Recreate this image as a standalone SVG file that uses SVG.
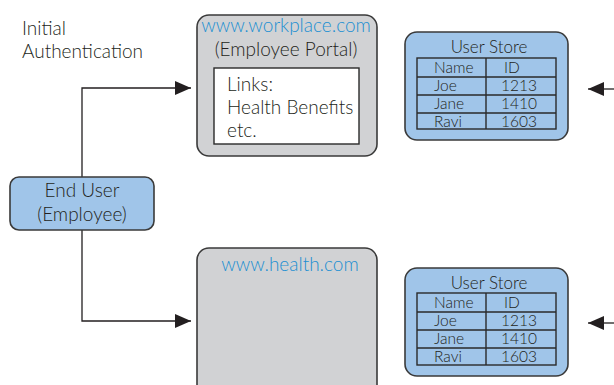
<svg xmlns="http://www.w3.org/2000/svg" width="614" height="385" viewBox="0 0 614 385">
<style>
text{font-family:Lato,"Noto Sans","DejaVu Sans",sans-serif;fill:#231f20;font-weight:300}
.t{font-size:19px}
.s{font-size:15.5px}
.h{font-size:17px}
.c{text-anchor:middle}
.url{fill:#1b8fd2}
.portal{fill:#d1d2d4;stroke:#3a3a3a;stroke-width:1.6}
.store{fill:#a0c5e9;stroke:#3a3a3a;stroke-width:1.6}
.tbl{fill:none;stroke:#2a2a2a;stroke-width:1.4}
.ln{fill:none;stroke:#231f20;stroke-width:1.3}
</style>
<defs>
<marker id="ah" viewBox="0 0 16 14" refX="16" refY="7" markerWidth="16" markerHeight="14" markerUnits="userSpaceOnUse" orient="auto">
<path d="M0,0 L16,7 L0,14 Z" fill="#231f20"/>
</marker>
</defs>
<text class="t" x="22" y="35">Initial</text>
<text class="t" x="22" y="58">Authentication</text>
<g id="connectors">
<path class="ln" d="M82,177 V88 H191" marker-end="url(#ah)"/>
<path class="ln" d="M82,230 V321 H191" marker-end="url(#ah)"/>
<path class="ln" d="M614,89 H588" marker-end="url(#ah)"/>
<path class="ln" d="M614,323 H588" marker-end="url(#ah)"/>
</g>
<g id="end-user">
<rect x="10" y="177" width="144" height="53" rx="9" class="store"/>
<text class="t c" x="82" y="197">End User</text>
<text class="t c" x="82" y="221">(Employee)</text>
</g>
<g id="workplace">
<rect x="197" y="15" width="180" height="141" rx="12" class="portal"/>
<text class="t c url" x="286" y="32">www.workplace.com</text>
<text class="t c" x="286" y="56">(Employee Portal)</text>
<rect x="214" y="68" width="145" height="76" fill="#fff" stroke="#2a2a2a" stroke-width="1.4"/>
<text class="t" x="227" y="91">Links:</text>
<text class="t" x="227" y="114">Health Benefits</text>
<text class="t" x="227" y="137">etc.</text>
</g>
<g id="health">
<rect x="197" y="248" width="180" height="150" rx="12" class="portal"/>
<text class="t c url" x="290" y="271">www.health.com</text>
</g>
<g id="store-top">
<rect x="405" y="32" width="163" height="108" rx="12" class="store"/>
<text class="h c" x="489" y="53">User Store</text>
<rect x="417" y="58" width="139" height="71" class="tbl"/>
<path class="tbl" d="M486,58 V129 M417,77 H556 M417,95 H556 M417,113 H556"/>
<text class="s" x="434" y="73">Name</text>
<text class="s" x="504" y="73">ID</text>
<text class="s" x="434" y="91">Joe</text>
<text class="s c" x="519" y="91">1213</text>
<text class="s" x="434" y="109">Jane</text>
<text class="s c" x="519" y="109">1410</text>
<text class="s" x="434" y="127">Ravi</text>
<text class="s c" x="519" y="127">1603</text>
</g>
<g id="store-bottom">
<rect x="405" y="268" width="163" height="108" rx="12" class="store"/>
<text class="h c" x="489" y="289">User Store</text>
<rect x="417" y="293" width="139" height="72" class="tbl"/>
<path class="tbl" d="M486,293 V365 M417,312 H556 M417,330 H556 M417,348 H556"/>
<text class="s" x="434" y="308">Name</text>
<text class="s" x="504" y="308">ID</text>
<text class="s" x="434" y="326">Joe</text>
<text class="s c" x="519" y="326">1213</text>
<text class="s" x="434" y="344">Jane</text>
<text class="s c" x="519" y="344">1410</text>
<text class="s" x="434" y="362">Ravi</text>
<text class="s c" x="519" y="362">1603</text>
</g>
</svg>
